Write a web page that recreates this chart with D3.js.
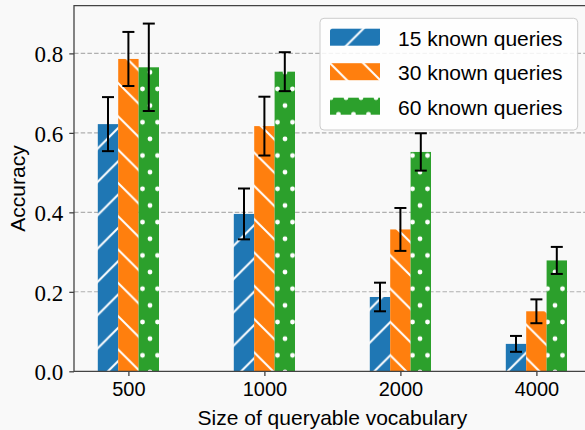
<!DOCTYPE html>
<html>
<head>
<meta charset="utf-8">
<script src="https://cdn.jsdelivr.net/npm/d3@7"></script>
<style>
  body { margin: 0; background: #f9f9f9; }
  svg { display: block; }
  .tick text { fill: #000; }
  .ytick { font-family: "Liberation Serif", "DejaVu Serif", serif; }
</style>
</head>
<body>
<div id="chart"></div>
<script>
// vocabulary sizes on the x axis
var vocab = ["500", "1000", "2000", "4000"];
var seriesNames = ["15 known queries", "30 known queries", "60 known queries"];
// accuracy means and error half-widths
var acc15 = [0.622, 0.396, 0.187, 0.069];
var err15 = [0.068, 0.064, 0.036, 0.020];
var acc30 = [0.786, 0.617, 0.357, 0.151];
var err30 = [0.068, 0.074, 0.054, 0.030];
var acc60 = [0.765, 0.754, 0.552, 0.279];
var err60 = [0.110, 0.049, 0.047, 0.034];
var yTicks = [0, 0.2, 0.4, 0.6, 0.8];

var colors = ["#1f77b4", "#ff7f0e", "#2ca02c"],
  hatchIds = ["hatchFwd", "hatchBack", "hatchDots"],
  offsets = [-0.15, 0, 0.15],
  barW = 0.15;

var W = 585, H = 430,
  margin = { top: 5.7, left: 74 },
  width = 516.8,
  height = 365.6;

var svg = d3.select("#chart").append("svg")
  .attr("width", W)
  .attr("height", H)
  .style("background", "#f9f9f9");

// hatch patterns
var defs = svg.append("defs"),
  s = 33.3;

function addLinePattern(id, color, d) {
  var p = defs.append("pattern")
    .attr("id", id)
    .attr("patternUnits", "userSpaceOnUse")
    .attr("width", s)
    .attr("height", s);
  p.append("rect").attr("width", s).attr("height", s).attr("fill", color);
  p.append("path").attr("d", d)
    .attr("stroke", "#fff").attr("stroke-width", 2).attr("fill", "none");
}
addLinePattern("hatchFwd", colors[0],
  "M0," + s + "L" + s + ",0M" + (-s / 4) + "," + (s / 4) + "L" + (s / 4) + "," + (-s / 4) +
  "M" + (3 * s / 4) + "," + (5 * s / 4) + "L" + (5 * s / 4) + "," + (3 * s / 4));
addLinePattern("hatchBack", colors[1],
  "M0,0L" + s + "," + s + "M" + (-s / 4) + "," + (3 * s / 4) + "L" + (s / 4) + "," + (5 * s / 4) +
  "M" + (3 * s / 4) + "," + (-s / 4) + "L" + (5 * s / 4) + "," + (s / 4));

var dw = 15, dh = 33.3;
var dots = defs.append("pattern")
  .attr("id", "hatchDots")
  .attr("patternUnits", "userSpaceOnUse")
  .attr("x", 1)
  .attr("width", dw)
  .attr("height", dh);
dots.append("rect").attr("width", dw).attr("height", dh).attr("fill", colors[2]);
[[0, 0], [dw, 0], [0, dh], [dw, dh], [dw / 2, dh / 2]].forEach(function(c) {
  dots.append("circle").attr("cx", c[0]).attr("cy", c[1]).attr("r", 2.4).attr("fill", "#fff");
});

var g = svg.append("g")
  .attr("transform", "translate(" + margin.left + "," + margin.top + ")");

var x = d3.scaleLinear().domain([-0.4, 3.4]).range([0, width]),
  y = d3.scaleLinear().domain([0, 0.92]).range([height, 0]);

// grid
g.append("g")
  .selectAll("line")
  .data(yTicks.slice(1))
  .enter().append("line")
  .attr("x1", 0).attr("x2", width)
  .attr("y1", function(d) { return y(d); })
  .attr("y2", function(d) { return y(d); })
  .attr("stroke", "#b0b0b0")
  .attr("stroke-width", 1.1)
  .attr("stroke-dasharray", "4.5,2.2");

var series = [
  { vals: acc15, errs: err15 },
  { vals: acc30, errs: err30 },
  { vals: acc60, errs: err60 }
];

series.forEach(function(sr, si) {
  var rows = vocab.map(function(v, i) {
    return { i: i, v: sr.vals[i], e: sr.errs[i] };
  });
  var sg = g.append("g");
  sg.selectAll("rect")
    .data(rows)
    .enter().append("rect")
    .attr("x", function(d) { return x(d.i + offsets[si] - barW / 2); })
    .attr("width", x(barW) - x(0))
    .attr("y", function(d) { return y(d.v); })
    .attr("height", function(d) { return y(0) - y(d.v); })
    .attr("fill", "url(#" + hatchIds[si] + ")");

  var eb = sg.selectAll(".err")
    .data(rows)
    .enter().append("g")
    .attr("class", "err")
    .attr("stroke", "#000")
    .attr("stroke-width", 2);
  eb.append("line")
    .attr("x1", function(d) { return x(d.i + offsets[si]); })
    .attr("x2", function(d) { return x(d.i + offsets[si]); })
    .attr("y1", function(d) { return y(d.v - d.e); })
    .attr("y2", function(d) { return y(d.v + d.e); });
  [-1, 1].forEach(function(sign) {
    eb.append("line")
      .attr("x1", function(d) { return x(d.i + offsets[si]) - 6; })
      .attr("x2", function(d) { return x(d.i + offsets[si]) + 6; })
      .attr("y1", function(d) { return y(d.v + sign * d.e); })
      .attr("y2", function(d) { return y(d.v + sign * d.e); });
  });
});

// axes
var xAxis = d3.axisBottom(x)
  .tickValues(d3.range(vocab.length))
  .tickFormat(function(d) { return vocab[d]; })
  .tickSize(4.7).tickPadding(6);
var yAxis = d3.axisLeft(y)
  .tickValues(yTicks)
  .tickFormat(d3.format(".1f"))
  .tickSize(4.7).tickPadding(6);

var gx = g.append("g")
  .attr("transform", "translate(0," + height + ")")
  .attr("font-family", "'Liberation Sans', Arial, sans-serif")
  .call(xAxis);
gx.select(".domain").remove();
gx.selectAll(".tick line").attr("stroke", "#333").attr("stroke-width", 1.2);
gx.selectAll("text")
  .attr("font-family", "'Liberation Sans', Arial, sans-serif")
  .attr("font-size", 20);

var gy = g.append("g").call(yAxis);
gy.attr("font-family", "'Liberation Serif', 'DejaVu Serif', serif");
gy.select(".domain").remove();
gy.selectAll(".tick line").attr("stroke", "#333").attr("stroke-width", 1.2);
gy.selectAll("text")
  .attr("class", "ytick")
  .attr("dy", "0.36em")
  .attr("font-family", "'Liberation Serif', 'DejaVu Serif', serif")
  .attr("font-size", 23);

// spines
g.append("path")
  .attr("d", "M" + width + ",0H0V" + height + "H" + width)
  .attr("fill", "none")
  .attr("stroke", "#444")
  .attr("stroke-width", 1.3);

// axis labels
svg.append("text")
  .attr("x", margin.left + width / 2)
  .attr("y", 425)
  .attr("text-anchor", "middle")
  .style("font-family", "'Liberation Sans', Arial, sans-serif")
  .style("font-size", "21px")
  .text("Size of queryable vocabulary");

svg.append("text")
  .attr("transform", "translate(25," + (margin.top + height / 2) + ") rotate(-90)")
  .attr("text-anchor", "middle")
  .style("font-family", "'Liberation Sans', Arial, sans-serif")
  .style("font-size", "21px")
  .text("Accuracy");

// legend
var legend = svg.append("g").attr("transform", "translate(320,18.3)");
legend.append("rect")
  .attr("width", 257.7)
  .attr("height", 111.7)
  .attr("rx", 4)
  .attr("fill", "#fff")
  .attr("fill-opacity", 0.85)
  .attr("stroke", "#cccccc")
  .attr("stroke-width", 1);

var keys = legend.selectAll(".key")
  .data(seriesNames)
  .enter().append("g")
  .attr("class", "key")
  .attr("transform", function(d, i) { return "translate(10," + (10.4 + i * 34.5) + ")"; });
keys.append("rect")
  .attr("width", 50)
  .attr("height", 17)
  .attr("fill", function(d, i) { return "url(#" + hatchIds[i] + ")"; });
keys.append("text")
  .attr("x", 68)
  .attr("y", 17)
  .style("font-family", "'Liberation Sans', Arial, sans-serif")
  .style("font-size", "21px")
  .text(function(d) { return d; });
</script>
</body>
</html>
